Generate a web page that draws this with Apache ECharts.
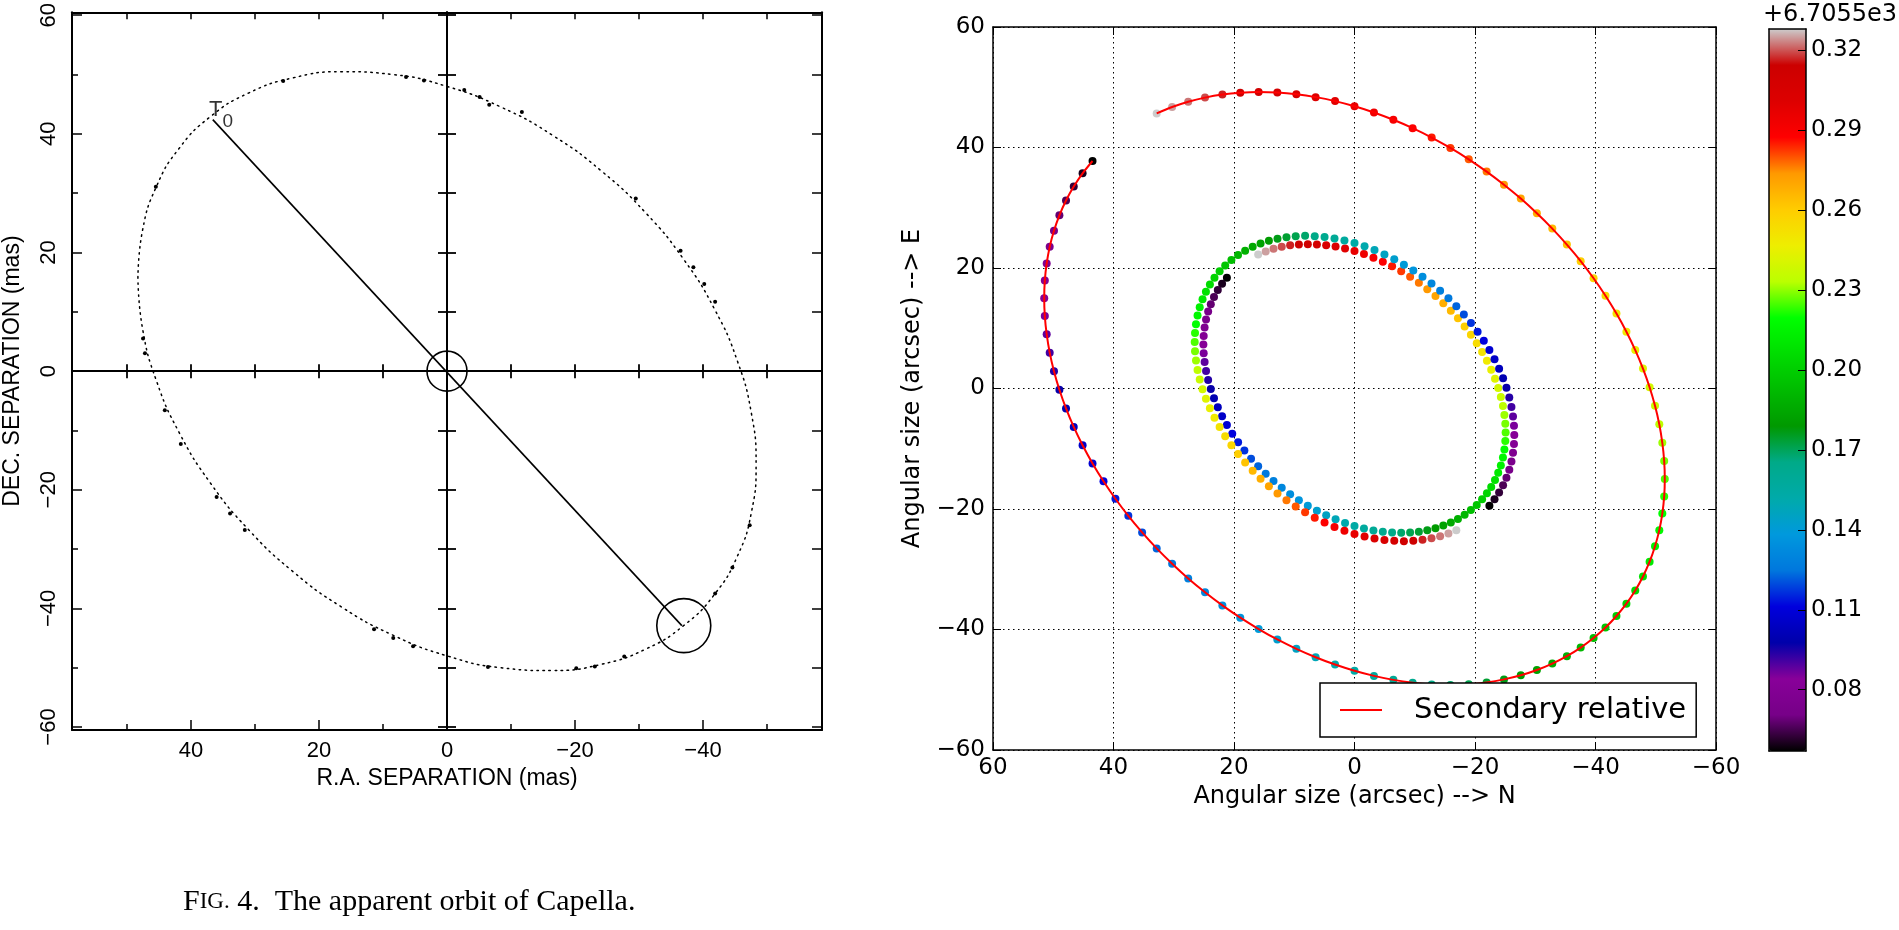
<!DOCTYPE html>
<html><head><meta charset="utf-8">
<script src="https://cdn.jsdelivr.net/npm/echarts@6/dist/echarts.min.js"></script>
<style>html,body{margin:0;padding:0;background:#fff}#c{width:1899px;height:930px}</style>
</head><body><div id="c"></div>
<script>
// ===== Left panel: apparent orbit of Capella (mas) =====
const orbitRA  = [48.30,47.57,45.39,41.83,37.00,31.05,24.15,16.52,8.39,0,-8.39,-16.52,-24.15,-31.05,-37.00,-41.83,-45.39,-47.57,-48.30,-47.57,-45.39,-41.83,-37.00,-31.05,-24.15,-16.52,-8.39,0,8.39,16.52,24.15,31.05,37.00,41.83,45.39,47.57,48.30];
const orbitDec = [15.70,23.79,31.17,37.60,42.88,46.86,49.42,50.48,50.00,48.00,44.54,39.74,33.72,26.68,18.82,10.40,1.67,-7.13,-15.70,-23.79,-31.17,-37.60,-42.88,-46.86,-49.42,-50.48,-50.00,-48.00,-44.54,-39.74,-33.72,-26.68,-18.82,-10.40,-1.67,7.13,15.70];
const obsRA  = [6.4,3.6,-2.7,-5.1,-6.6,-11.7,-29.5,-36.5,-38.5,-40.2,-41.9,25.6,45.5,47.5,47.2,44.1,41.6,36.0,33.9,31.6,11.4,8.4,5.3,-6.4,-20.2,-23.1,-27.7,-47.3,-44.6,-41.9];
const obsDec = [49.6,49.0,47.4,46.2,44.9,43.7,29.1,20.3,17.5,14.7,11.7,48.9,31.1,5.5,3.0,-6.6,-12.3,-21.2,-24.0,-26.8,-43.5,-45.0,-46.4,-49.9,-50.1,-49.8,-48.1,-26.0,-33.1,-37.5];
const nodeLineRA  = [36.6, -36.7];
const nodeLineDec = [42.4, -42.9];
const t0Point = [36.6, 42.4];
const primaryPos = [0, 0];
const companionPos = [-37.0, -42.9];
const leftXMajor = [-40,-20,0,20,40];
const leftXMinor = [-50,-30,-10,10,30,50];
const leftXAll = [-50,-40,-30,-20,-10,0,10,20,30,40,50];
const leftXZero = [-50,-40,-30,-20,-10,10,20,30,40,50];
const leftYMajor = [-60,-40,-20,0,20,40,60];
const leftYMinor = [-50,-30,-10,10,30,50];
const leftYAll = [-60,-50,-40,-30,-20,-10,0,10,20,30,40,50,60];
const leftYZero = [-60,-50,-40,-30,-20,-10,10,20,30,40,50,60];

// ===== Right panel: simulated orbits, colour = time (+6.7055e3) =====
const times = [0.0570,0.0599,0.0627,0.0656,0.0684,0.0713,0.0741,0.0770,0.0798,0.0827,0.0855,0.0884,0.0912,0.0941,0.0969,0.0998,0.1026,0.1055,0.1083,0.1112,0.1141,0.1169,0.1198,0.1226,0.1255,0.1283,0.1312,0.1340,0.1369,0.1397,0.1426,0.1454,0.1483,0.1511,0.1540,0.1568,0.1597,0.1625,0.1654,0.1683,0.1711,0.1740,0.1768,0.1797,0.1825,0.1854,0.1882,0.1911,0.1939,0.1968,0.1996,0.2025,0.2053,0.2082,0.2110,0.2139,0.2167,0.2196,0.2225,0.2253,0.2282,0.2310,0.2339,0.2367,0.2396,0.2424,0.2453,0.2481,0.2510,0.2538,0.2567,0.2595,0.2624,0.2652,0.2681,0.2709,0.2738,0.2767,0.2795,0.2824,0.2852,0.2881,0.2909,0.2938,0.2966,0.2995,0.3023,0.3052,0.3080,0.3109,0.3137,0.3166,0.3194,0.3223,0.3251,0.3280];
const relX = [43.48,45.13,46.60,47.88,48.98,49.88,50.59,51.09,51.40,51.50,51.40,51.09,50.59,49.88,48.98,47.88,46.60,45.13,43.48,41.66,39.68,37.54,35.25,32.83,30.27,27.60,24.81,21.93,18.96,15.91,12.81,9.65,6.45,3.23,0,
  -3.23,-6.45,-9.65,-12.81,-15.91,-18.96,-21.93,-24.81,-27.60,-30.27,-32.83,-35.25,-37.54,-39.68,-41.66,-43.48,-45.13,-46.60,-47.88,-48.98,-49.88,-50.59,-51.09,-51.40,-51.50,
  -51.40,-51.09,-50.59,-49.88,-48.98,-47.88,-46.60,-45.13,-43.48,-41.66,-39.68,-37.54,-35.25,-32.83,-30.27,-27.60,-24.81,-21.93,-18.96,-15.91,-12.81,-9.65,-6.45,-3.23,0,
  3.23,6.45,9.65,12.81,15.91,18.96,21.93,24.81,27.60,30.27,32.83];
const relY = [37.76,35.71,33.52,31.20,28.75,26.18,23.51,20.75,17.91,15.00,12.03,9.01,5.95,2.88,-0.21,-3.30,-6.38,-9.43,-12.44,-15.40,-18.30,-21.14,-23.88,-26.54,-29.08,-31.52,-33.82,-36.00,-38.04,-39.92,-41.65,-43.21,-44.60,-45.82,-46.85,
  -47.70,-48.36,-48.83,-49.11,-49.20,-49.08,-48.78,-48.28,-47.60,-46.72,-45.66,-44.42,-43.00,-41.42,-39.68,-37.76,-35.71,-33.52,-31.20,-28.75,-26.18,-23.51,-20.75,-17.91,-15.00,
  -12.03,-9.01,-5.95,-2.88,0.21,3.30,6.38,9.43,12.44,15.40,18.30,21.14,23.88,26.54,29.08,31.52,33.82,36.00,38.04,39.92,41.65,43.21,44.60,45.82,46.85,
  47.70,48.36,48.83,49.11,49.20,49.08,48.78,48.28,47.60,46.72,45.66];
const secX = [21.18,21.98,22.69,23.32,23.85,24.29,24.64,24.88,25.03,25.08,25.03,24.88,24.64,24.29,23.85,23.32,22.69,21.98,21.18,20.29,19.32,18.28,17.17,15.99,14.74,13.44,12.08,10.68,9.23,7.75,6.24,4.70,3.14,1.57,0,
  -1.57,-3.14,-4.70,-6.24,-7.75,-9.23,-10.68,-12.08,-13.44,-14.74,-15.99,-17.17,-18.28,-19.32,-20.29,-21.18,-21.98,-22.69,-23.32,-23.85,-24.29,-24.64,-24.88,-25.03,-25.08,
  -25.03,-24.88,-24.64,-24.29,-23.85,-23.32,-22.69,-21.98,-21.18,-20.29,-19.32,-18.28,-17.17,-15.99,-14.74,-13.44,-12.08,-10.68,-9.23,-7.75,-6.24,-4.70,-3.14,-1.57,0,
  1.57,3.14,4.70,6.24,7.75,9.23,10.68,12.08,13.44,14.74,15.99];
const secY = [18.40,17.39,16.33,15.19,14.00,12.76,11.46,10.11,8.72,7.31,5.86,4.39,2.90,1.40,-0.10,-1.61,-3.11,-4.59,-6.06,-7.50,-8.92,-10.29,-11.64,-12.92,-14.17,-15.36,-16.48,-17.54,-18.53,-19.44,-20.28,-21.05,-21.72,-22.32,-22.82,
  -23.24,-23.56,-23.79,-23.92,-23.96,-23.91,-23.76,-23.52,-23.18,-22.75,-22.24,-21.64,-20.95,-20.18,-19.32,-18.40,-17.39,-16.33,-15.19,-14.00,-12.76,-11.46,-10.11,-8.72,-7.31,
  -5.86,-4.39,-2.90,-1.40,0.10,1.61,3.11,4.59,6.06,7.50,8.92,10.29,11.64,12.92,14.17,15.36,16.48,17.54,18.53,19.44,20.28,21.05,21.72,22.32,22.82,
  23.24,23.56,23.79,23.92,23.96,23.91,23.76,23.52,23.18,22.75,22.24];
const priX = [-22.39,-23.24,-24.00,-24.66,-25.22,-25.69,-26.05,-26.31,-26.47,-26.52,-26.47,-26.31,-26.05,-25.69,-25.22,-24.66,-24.00,-23.24,-22.39,-21.46,-20.43,-19.33,-18.15,-16.90,-15.59,-14.21,-12.78,-11.29,-9.76,-8.20,-6.60,-4.97,-3.32,-1.67,0,
  1.67,3.32,4.97,6.60,8.20,9.76,11.29,12.78,14.21,15.59,16.90,18.15,19.33,20.43,21.46,22.39,23.24,24.00,24.66,25.22,25.69,26.05,26.31,26.47,26.52,
  26.47,26.31,26.05,25.69,25.22,24.66,24.00,23.24,22.39,21.46,20.43,19.33,18.15,16.90,15.59,14.21,12.78,11.29,9.76,8.20,6.60,4.97,3.32,1.67,0,
  -1.67,-3.32,-4.97,-6.60,-8.20,-9.76,-11.29,-12.78,-14.21,-15.59,-16.90];
const priY = [-19.45,-18.39,-17.26,-16.06,-14.81,-13.48,-12.11,-10.68,-9.23,-7.73,-6.19,-4.64,-3.07,-1.48,0.11,1.70,3.28,4.85,6.41,7.93,9.43,10.89,12.30,13.67,14.98,16.23,17.43,18.54,19.60,20.56,21.45,22.25,22.97,23.59,24.13,
  24.57,24.91,25.15,25.29,25.34,25.28,25.12,24.87,24.51,24.06,23.51,22.88,22.15,21.33,20.43,19.45,18.39,17.26,16.06,14.81,13.48,12.11,10.68,9.23,7.73,
  6.19,4.64,3.07,1.48,-0.11,-1.70,-3.28,-4.85,-6.41,-7.93,-9.43,-10.89,-12.30,-13.67,-14.98,-16.23,-17.43,-18.54,-19.60,-20.56,-21.45,-22.25,-22.97,-23.59,-24.13,
  -24.57,-24.91,-25.15,-25.29,-25.34,-25.28,-25.12,-24.87,-24.51,-24.06,-23.51];
const cbarTicks = [0.08,0.11,0.14,0.17,0.20,0.23,0.26,0.29,0.32];
const cbarMin = 0.057, cbarMax = 0.328;

// colormap (nipy_spectral)
const spectral = ['#000000','#770088','#880099','#0000aa','#0000dd','#0077dd','#0099dd','#00aaaa','#00aa88','#009900','#00bb00','#00dd00','#00ff00','#bbff00','#eeee00','#ffcc00','#ff9900','#ff0000','#dd0000','#cc0000','#cccccc'];

const LF = 'Liberation Sans', RF = 'DejaVu Sans', SF = 'Liberation Serif';
const fmt = v => (v < 0 ? '\u2212' + String(Math.abs(v)) : String(v));
const pairs = (xs, ys) => xs.map((x, i) => [x, ys[i]]);
const triples = (xs, ys, ts) => xs.map((x, i) => [x, ys[i], ts[i]]);
const K = '#000';

function lx(o) { // left-panel x axis
  return Object.assign({type:'value', gridIndex:0, inverse:true, min:-58.6, max:58.6,
    splitLine:{show:false}, axisLabel:{show:false}}, o);
}
function ly(o) {
  return Object.assign({type:'value', gridIndex:0, min:-60.5, max:60.5,
    splitLine:{show:false}, axisLabel:{show:false}}, o);
}
const lineK = w => ({color:K, width:w});
const dot = {opacity:1};

const chart = echarts.init(document.getElementById('c'), null, {renderer:'canvas'});
chart.setOption({
  animation:false,
  backgroundColor:'#fff',
  textStyle:{fontFamily:RF},
  title:[
    {text:'{a|F}{b|IG.} 4.  The apparent orbit of Capella.', left:183, top:887, padding:0,
     textStyle:{fontFamily:SF, fontSize:30, fontWeight:'normal', color:K,
       rich:{a:{fontFamily:SF, fontSize:30, color:K}, b:{fontFamily:SF, fontSize:23, color:K}}}},
    {text:'+6.7055e3', left:1763, top:3, padding:0,
     textStyle:{fontFamily:RF, fontSize:24, fontWeight:'normal', color:K}}
  ],
  grid:[
    {left:72, top:10, width:750, height:720},
    {left:993, top:27, width:723, height:723},
    {left:1769, top:29, width:37, height:722}
  ],
  legend:{
    data:[{name:'Secondary relative', icon:'rect'}],
    left:1320, top:683, itemWidth:42, itemHeight:2, selectedMode:false,
    backgroundColor:'#fff', borderColor:K, borderWidth:1.5, borderRadius:0,
    padding:[10,10,10,20],
    textStyle:{fontFamily:RF, fontSize:29, color:K, lineHeight:34, padding:[0,0,0,27]}
  },
  visualMap:{
    type:'continuous', min:cbarMin, max:cbarMax, dimension:2, seriesIndex:[7,8,9],
    inRange:{color:spectral}, left:1769, top:29, itemWidth:37, itemHeight:722,
    calculable:false, padding:0, hoverLink:false, orient:'vertical'
  },
  xAxis:[
    lx({position:'bottom', axisLine:{onZero:false, lineStyle:lineK(2)},
        axisTick:{inside:true, length:10, customValues:leftXMajor, lineStyle:lineK(1.5)},
        axisLabel:{show:true, customValues:leftXMajor, formatter:fmt, margin:10, fontFamily:LF, fontSize:22, color:K},
        name:'R.A. SEPARATION (mas)', nameLocation:'middle', nameGap:34,
        nameTextStyle:{fontFamily:LF, fontSize:23, color:K}}),
    lx({position:'bottom', axisLine:{show:false, onZero:false},
        axisTick:{inside:true, length:6, customValues:leftXMinor, lineStyle:lineK(1.5)}}),
    lx({position:'top', axisLine:{onZero:false, lineStyle:lineK(2)},
        axisTick:{inside:true, length:7, customValues:leftXAll, lineStyle:lineK(1.5)}}),
    lx({position:'bottom', axisLine:{onZero:true, onZeroAxisIndex:0, lineStyle:lineK(2)},
        axisTick:{inside:true, length:7, customValues:leftXZero, lineStyle:lineK(1.8)}}),
    lx({position:'bottom', axisLine:{onZero:true, onZeroAxisIndex:0, lineStyle:lineK(2)},
        axisTick:{inside:false, length:7, customValues:leftXZero, lineStyle:lineK(1.8)}}),
    {type:'value', gridIndex:1, position:'bottom', inverse:true, min:-60, max:60, interval:20,
     axisLine:{onZero:false, lineStyle:lineK(1.5)},
     axisTick:{inside:true, length:8, lineStyle:lineK(1)},
     axisLabel:{formatter:fmt, margin:7, fontFamily:RF, fontSize:23, color:K},
     splitLine:{show:true, lineStyle:{color:K, width:1, type:[1.5,3.5]}},
     name:'Angular size (arcsec) --> N', nameLocation:'middle', nameGap:35,
     nameTextStyle:{fontFamily:RF, fontSize:24, color:K}},
    {type:'value', gridIndex:1, position:'top', inverse:true, min:-60, max:60, interval:20,
     axisLine:{onZero:false, lineStyle:lineK(1.5)},
     axisTick:{inside:true, length:8, lineStyle:lineK(1)},
     axisLabel:{show:false}, splitLine:{show:false}},
    {type:'value', gridIndex:2, position:'bottom', min:0, max:1, z:10,
     axisLine:{onZero:false, lineStyle:lineK(1.5)}, axisTick:{show:false}, axisLabel:{show:false}, splitLine:{show:false}},
    {type:'value', gridIndex:2, position:'top', min:0, max:1, z:10,
     axisLine:{onZero:false, lineStyle:lineK(1.5)}, axisTick:{show:false}, axisLabel:{show:false}, splitLine:{show:false}}
  ],
  yAxis:[
    ly({position:'left', axisLine:{onZero:false, lineStyle:lineK(2)},
        axisTick:{inside:true, length:10, customValues:leftYMajor, lineStyle:lineK(1.5)},
        axisLabel:{show:true, customValues:leftYMajor, formatter:fmt, rotate:90, margin:12, fontFamily:LF, fontSize:22, color:K},
        name:'DEC. SEPARATION (mas)', nameLocation:'middle', nameGap:48,
        nameTextStyle:{fontFamily:LF, fontSize:23, color:K}}),
    ly({position:'left', axisLine:{show:false, onZero:false},
        axisTick:{inside:true, length:6, customValues:leftYMinor, lineStyle:lineK(1.5)}}),
    ly({position:'right', axisLine:{onZero:false, lineStyle:lineK(2)},
        axisTick:{inside:true, length:10, customValues:leftYAll, lineStyle:lineK(1.5)}}),
    ly({position:'left', axisLine:{onZero:true, onZeroAxisIndex:0, lineStyle:lineK(2)},
        axisTick:{inside:true, length:9, customValues:leftYZero, lineStyle:lineK(1.8)}}),
    ly({position:'left', axisLine:{onZero:true, onZeroAxisIndex:0, lineStyle:lineK(2)},
        axisTick:{inside:false, length:9, customValues:leftYZero, lineStyle:lineK(1.8)}}),
    {type:'value', gridIndex:1, position:'left', min:-60, max:60, interval:20,
     axisLine:{onZero:false, lineStyle:lineK(1.5)},
     axisTick:{inside:true, length:8, lineStyle:lineK(1)},
     axisLabel:{formatter:fmt, margin:8, fontFamily:RF, fontSize:23, color:K},
     splitLine:{show:true, lineStyle:{color:K, width:1, type:[1.5,3.5]}},
     name:'Angular size (arcsec) --> E', nameLocation:'middle', nameGap:68,
     nameTextStyle:{fontFamily:RF, fontSize:24, color:K}},
    {type:'value', gridIndex:1, position:'right', min:-60, max:60, interval:20,
     axisLine:{onZero:false, lineStyle:lineK(1.5)},
     axisTick:{inside:true, length:8, lineStyle:lineK(1)},
     axisLabel:{show:false}, splitLine:{show:false}},
    {type:'value', gridIndex:2, position:'left', min:cbarMin, max:cbarMax, z:10,
     axisLine:{onZero:false, lineStyle:lineK(1.5)}, axisTick:{show:false}, axisLabel:{show:false}, splitLine:{show:false}},
    {type:'value', gridIndex:2, position:'right', min:cbarMin, max:cbarMax, z:10,
     axisLine:{onZero:false, lineStyle:lineK(1.5)},
     axisTick:{inside:true, length:8, customValues:cbarTicks, lineStyle:lineK(1)},
     axisLabel:{customValues:cbarTicks, formatter:v => v.toFixed(2), margin:5, fontFamily:RF, fontSize:23, color:K},
     splitLine:{show:false}}
  ],
  series:[
    {type:'line', xAxisIndex:0, yAxisIndex:0, data:pairs(orbitRA, orbitDec), smooth:true, symbol:'none', silent:true,
     lineStyle:{color:K, width:1.5, type:[1.5,4.5], cap:'round'}},
    {type:'line', xAxisIndex:0, yAxisIndex:0, data:pairs(nodeLineRA, nodeLineDec), symbol:'none', silent:true,
     lineStyle:{color:K, width:1.6}},
    {type:'scatter', xAxisIndex:0, yAxisIndex:0, data:pairs(obsRA, obsDec), symbolSize:4, silent:true,
     itemStyle:{color:K, opacity:1}},
    {type:'scatter', xAxisIndex:0, yAxisIndex:0, data:[primaryPos], symbolSize:40, silent:true,
     itemStyle:{color:'rgba(0,0,0,0)', borderColor:K, borderWidth:1.6, opacity:1}},
    {type:'scatter', xAxisIndex:0, yAxisIndex:0, data:[companionPos], symbolSize:54, silent:true,
     itemStyle:{color:'rgba(0,0,0,0)', borderColor:K, borderWidth:1.6, opacity:1}},
    {type:'scatter', xAxisIndex:0, yAxisIndex:0, data:[t0Point], symbolSize:1, silent:true,
     itemStyle:{color:'rgba(0,0,0,0)'},
     label:{show:true, position:'inside', formatter:'T', offset:[3,-10], fontFamily:LF, fontSize:22, color:K}},
    {type:'scatter', xAxisIndex:0, yAxisIndex:0, data:[t0Point], symbolSize:1, silent:true,
     itemStyle:{color:'rgba(0,0,0,0)'},
     label:{show:true, position:'inside', formatter:'0', offset:[15,2], fontFamily:LF, fontSize:19, color:K}},
    {type:'scatter', xAxisIndex:5, yAxisIndex:5, data:triples(secX, secY, times), symbolSize:8, z:2, silent:true, itemStyle:dot},
    {type:'scatter', xAxisIndex:5, yAxisIndex:5, data:triples(priX, priY, times), symbolSize:8, z:2, silent:true, itemStyle:dot},
    {type:'scatter', xAxisIndex:5, yAxisIndex:5, data:triples(relX, relY, times), symbolSize:8, z:2, silent:true, itemStyle:dot},
    {type:'line', name:'Secondary relative', xAxisIndex:5, yAxisIndex:5, data:pairs(relX, relY), smooth:0.3,
     symbol:'none', z:3, silent:true, lineStyle:{color:'#ff0000', width:2}, itemStyle:{color:'#ff0000'}}
  ]
});
</script></body></html>
